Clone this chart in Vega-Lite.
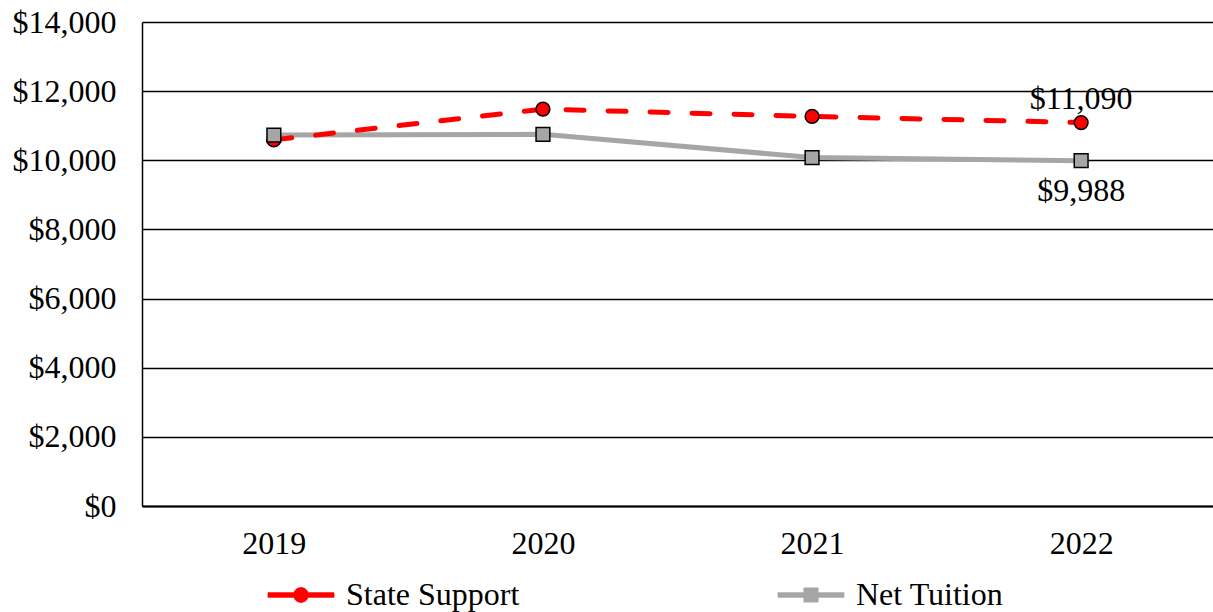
{
  "$schema": "https://vega.github.io/schema/vega-lite/v6.json",
  "width": 1071,
  "height": 484,
  "autosize": {"type": "none"},
  "padding": {"left": 142, "top": 22, "right": 0, "bottom": 106},
  "background": "white",
  "config": {
    "font": "Liberation Serif",
    "view": {"stroke": null},
    "axis": {"labelFont": "Liberation Serif", "labelFontSize": 32, "labelColor": "black", "title": null, "ticks": false}
  },
  "data": {
    "values": [
      {"year": "2019", "series": "Net Tuition", "value": 10730, "label": null},
      {"year": "2020", "series": "Net Tuition", "value": 10750, "label": null},
      {"year": "2021", "series": "Net Tuition", "value": 10080, "label": null},
      {"year": "2022", "series": "Net Tuition", "value": 9988, "label": "$9,988"},
      {"year": "2019", "series": "State Support", "value": 10590, "label": null},
      {"year": "2020", "series": "State Support", "value": 11480, "label": null},
      {"year": "2021", "series": "State Support", "value": 11270, "label": null},
      {"year": "2022", "series": "State Support", "value": 11090, "label": "$11,090"}
    ]
  },
  "encoding": {
    "x": {
      "field": "year", "type": "ordinal",
      "scale": {"type": "point", "padding": 0.49},
      "axis": {"labelAngle": 0, "domainColor": "black", "domainWidth": 2, "labelPadding": 22, "grid": false}
    },
    "y": {
      "field": "value", "type": "quantitative",
      "scale": {"domain": [0, 14000], "nice": false},
      "axis": {"values": [0, 2000, 4000, 6000, 8000, 10000, 12000, 14000], "format": "$,.0f", "domainColor": "black", "domainWidth": 1.5, "gridColor": "black", "gridWidth": 1.4, "gridOpacity": 1, "labelPadding": 26}
    },
    "color": {
      "field": "series", "type": "nominal",
      "scale": {"domain": ["State Support", "Net Tuition"], "range": ["#FF0000", "#A6A6A6"]},
      "legend": {
        "title": null,
        "orient": "none",
        "legendX": 142,
        "legendY": 556,
        "direction": "horizontal",
        "columns": 2,
        "columnPadding": 256,
        "symbolSize": 1089,
        "labelOffset": 28,
        "labelFontSize": 32,
        "labelFont": "Liberation Serif",
        "labelColor": "black",
        "labelLimit": 400,
        "encode": {
          "symbols": {
            "update": {
              "shape": {"signal": "datum.value === 'State Support' ? 'M-2,-0.14H-0.45V0.14H-2Z M0.45,-0.14H2V0.14H0.45Z M0.45,0A0.45,0.45 0 1,1 -0.45,0A0.45,0.45 0 1,1 0.45,0Z' : 'M-2,-0.14H-0.43V0.14H-2Z M0.43,-0.14H2V0.14H0.43Z M-0.43,-0.43H0.43V0.43H-0.43Z'"},
              "fill": {"signal": "datum.value === 'State Support' ? '#FF0000' : '#A6A6A6'"},
              "stroke": {"value": "black"},
              "strokeWidth": {"value": 0.8},
              "strokeDash": {"value": []},
              "opacity": {"value": 1}
            }
          }
        }
      }
    }
  },
  "layer": [
    {
      "transform": [{"filter": "datum.series === 'Net Tuition'"}],
      "mark": {"type": "line", "strokeWidth": 5, "strokeCap": "round"}
    },
    {
      "transform": [{"filter": "datum.series === 'State Support'"}],
      "mark": {"type": "line", "strokeWidth": 5, "strokeCap": "round", "strokeDash": [18, 24]}
    },
    {
      "transform": [{"filter": "datum.series === 'State Support'"}],
      "mark": {"type": "point", "shape": "circle", "filled": true, "opacity": 1, "stroke": "black", "strokeWidth": 1.5, "size": 190}
    },
    {
      "transform": [{"filter": "datum.series === 'Net Tuition'"}],
      "mark": {"type": "point", "shape": "square", "filled": true, "opacity": 1, "stroke": "black", "strokeWidth": 1.5, "size": 190}
    },
    {
      "transform": [{"filter": "datum.series === 'State Support' && datum.label != null"}],
      "mark": {"type": "text", "fontSize": 32, "font": "Liberation Serif", "dy": -24, "baseline": "middle"},
      "encoding": {"text": {"field": "label"}, "color": {"value": "black"}}
    },
    {
      "transform": [{"filter": "datum.series === 'Net Tuition' && datum.label != null"}],
      "mark": {"type": "text", "fontSize": 32, "font": "Liberation Serif", "dy": 30, "baseline": "middle"},
      "encoding": {"text": {"field": "label"}, "color": {"value": "black"}}
    }
  ]
}
